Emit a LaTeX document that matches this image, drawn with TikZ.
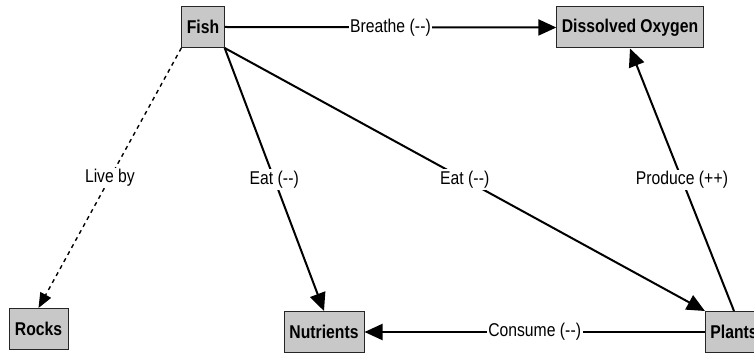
\documentclass[tikz,border=0pt]{standalone}
\usepackage{fontspec}
\setmainfont{Liberation Sans}[FakeStretch=0.85]
\usetikzlibrary{arrows.meta}
\definecolor{boxgray}{RGB}{200,200,200}
\newcommand{\dd}{-\kern0.3pt-}
\newcommand{\pp}{+\kern0.3pt+}
\begin{document}
\begin{tikzpicture}[x=1pt,y=-1pt,
  box/.style={draw=black!85, fill=boxgray, line width=1pt, minimum height=41pt, inner xsep=5pt, font=\fontsize{18.5}{22}\selectfont\bfseries},
  conn/.style={line width=2pt, -{Triangle[length=18pt,width=16pt]}},
  dashconn/.style={line width=1.4pt, dash pattern=on 4pt off 4pt, -{Triangle[length=15pt,width=12pt]}},
  lbl/.style={fill=white, inner sep=1.5pt, font=\fontsize{18.5}{22}\selectfont}]
\clip (0,0) rectangle (754,355);
\fill[white] (0,0) rectangle (754,355);
\node[box, minimum width=42pt] (fish) at (203,27) {Fish};
\node[box, minimum width=144pt] (do) at (630,27.5) {Dissolved Oxygen};
\node[box, minimum width=59pt] (rocks) at (38.5,329) {Rocks};
\node[box, minimum width=80pt] (nut) at (324,332) {Nutrients};
\node[box, minimum width=56pt] (plants) at (734,332) {Plants};
\draw[conn] (fish.east) -- node[lbl]{Breathe (\dd)} (do.west);
\draw[dashconn] (fish.south west) -- node[lbl]{Live by} (rocks.north);
\draw[conn] (fish.south east) -- node[lbl]{Eat (\dd)} (nut.north);
\draw[conn] (fish.south east) -- node[lbl]{Eat (\dd)} (plants.north west);
\draw[conn] (plants.north) -- node[lbl]{Produce (\pp)} (do.south);
\draw[conn] (plants.west) -- node[lbl]{Consume (\dd)} (nut.east);
\end{tikzpicture}
\end{document}
